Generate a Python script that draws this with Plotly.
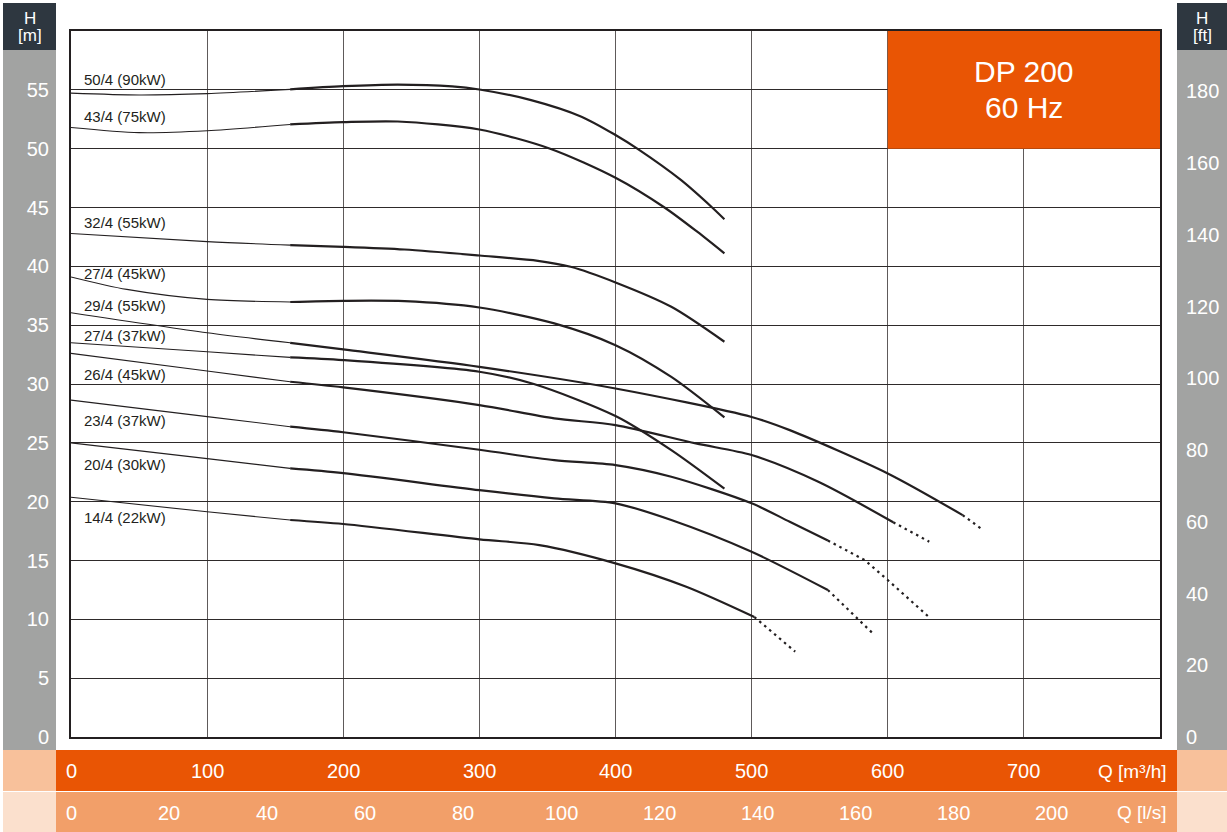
import plotly.graph_objects as go

# ---------------- data ----------------
q_50_4 = [0, 50, 100, 161, 200, 240, 280, 300, 338, 375, 400, 416, 448, 471, 480]
h_50_4 = [54.72, 54.56, 54.68, 55.04, 55.31, 55.45, 55.3, 55.03, 54.13, 52.72, 51.16, 50.0, 47.34, 45.0, 44.0]

q_43_4 = [0, 50, 100, 161, 200, 240, 300, 352, 400, 436, 460, 480]
h_43_4 = [51.8, 51.36, 51.52, 52.06, 52.25, 52.31, 51.63, 50.0, 47.53, 45.0, 42.94, 41.1]

q_32_4 = [0, 100, 161, 200, 245, 300, 343, 367, 400, 441, 480]
h_32_4 = [42.79, 42.1, 41.8, 41.66, 41.43, 40.92, 40.47, 39.96, 38.63, 36.56, 33.59]

q_27_4a = [0, 41, 100, 161, 200, 245, 300, 355, 400, 441, 480]
h_27_4a = [39.1, 38.04, 37.19, 36.97, 37.07, 37.04, 36.5, 35.15, 33.3, 30.6, 27.16]

q_29_4 = [0, 100, 161, 200, 300, 400, 500, 528, 600, 655]
h_29_4 = [36.05, 34.35, 33.5, 32.94, 31.46, 29.62, 27.2, 26.08, 22.4, 18.86]
q_29_4_dot = [655, 670]
h_29_4_dot = [18.86, 17.59]

q_27_4b = [0, 100, 161, 200, 300, 340, 400, 441, 480]
h_27_4b = [33.5, 32.74, 32.26, 32.03, 31.04, 30.0, 27.28, 24.38, 21.1]

q_26_4 = [0, 100, 161, 200, 300, 355, 400, 459, 500, 549, 604]
h_26_4 = [32.6, 31.1, 30.19, 29.71, 28.21, 27.08, 26.51, 24.95, 23.96, 21.69, 18.25]
q_26_4_dot = [604, 630.5]
h_26_4_dot = [18.25, 16.6]

q_23_4 = [0, 100, 161, 200, 300, 355, 400, 441, 500, 528, 556]
h_23_4 = [28.63, 27.23, 26.37, 25.9, 24.41, 23.53, 23.11, 22.12, 19.86, 18.29, 16.7]
q_23_4_dot = [556, 583, 600, 630]
h_23_4_dot = [16.7, 15.04, 13.34, 10.22]

q_20_4 = [0, 100, 161, 200, 300, 355, 400, 441, 500, 556]
h_20_4 = [25.0, 23.66, 22.83, 22.43, 20.98, 20.28, 19.86, 18.44, 15.74, 12.49]
q_20_4_dot = [556, 589]
h_20_4_dot = [12.49, 8.81]

q_14_4 = [0, 100, 161, 200, 300, 344, 400, 452, 502]
h_14_4 = [20.37, 19.14, 18.44, 18.1, 16.8, 16.31, 14.76, 12.77, 10.2]
q_14_4_dot = [502, 532]
h_14_4_dot = [10.2, 7.25]

curve_labels = ["50/4 (90kW)", "43/4 (75kW)", "32/4 (55kW)", "27/4 (45kW)", "29/4 (55kW)",
                "27/4 (37kW)", "26/4 (45kW)", "23/4 (37kW)", "20/4 (30kW)", "14/4 (22kW)"]
label_h = [55.9, 52.7, 43.7, 39.35, 36.7, 34.1, 30.8, 26.9, 23.15, 18.62]
label_q = 8.2

q_thick_start = 161

m_ticks = [0, 5, 10, 15, 20, 25, 30, 35, 40, 45, 50, 55]
ft_ticks = [0, 20, 40, 60, 80, 100, 120, 140, 160, 180]
qm3h_ticks = [0, 100, 200, 300, 400, 500, 600, 700]
qls_ticks = [0, 20, 40, 60, 80, 100, 120, 140, 160, 180, 200]
M_TO_FT = 3.28084
LS_TO_M3H = 3.6

title_line1 = "DP 200"
title_line2 = "60 Hz"

# ---------------- styling ----------------
INK = "#231F20"
ORANGE = "#E95504"
ORANGE2 = "#F29F69"
CORNER1 = "#F8C19B"
CORNER2 = "#FBE0CD"
GRAY = "#A2A3A2"
DARK = "#2E3740"
FONT = "Liberation Sans, Arial, sans-serif"

W, H = 1227, 832
L, R, T, B = 71, 1160, 31, 737


def fx(px):
    return (px - L) / (R - L)


def fy(py):
    return (B - py) / (B - T)


curves = [
    (q_50_4, h_50_4, None, None),
    (q_43_4, h_43_4, None, None),
    (q_32_4, h_32_4, None, None),
    (q_27_4a, h_27_4a, None, None),
    (q_29_4, h_29_4, q_29_4_dot, h_29_4_dot),
    (q_27_4b, h_27_4b, None, None),
    (q_26_4, h_26_4, q_26_4_dot, h_26_4_dot),
    (q_23_4, h_23_4, q_23_4_dot, h_23_4_dot),
    (q_20_4, h_20_4, q_20_4_dot, h_20_4_dot),
    (q_14_4, h_14_4, q_14_4_dot, h_14_4_dot),
]

fig = go.Figure()
for q, h, qd, hd in curves:
    thin = [(a, b) for a, b in zip(q, h) if a <= q_thick_start]
    thick = [(a, b) for a, b in zip(q, h) if a >= q_thick_start]
    fig.add_trace(go.Scatter(x=[p[0] for p in thin], y=[p[1] for p in thin], mode="lines",
                             line=dict(color=INK, width=1.1, shape="spline", smoothing=0.8),
                             hoverinfo="skip", showlegend=False))
    fig.add_trace(go.Scatter(x=[p[0] for p in thick], y=[p[1] for p in thick], mode="lines",
                             line=dict(color=INK, width=2.2, shape="spline", smoothing=0.8),
                             hoverinfo="skip", showlegend=False))
    if qd:
        fig.add_trace(go.Scatter(x=qd, y=hd, mode="lines",
                                 line=dict(color=INK, width=2.2, dash="2.5px,4px"),
                                 hoverinfo="skip", showlegend=False))

# invisible trace to activate the ft axis
fig.add_trace(go.Scatter(x=[0], y=[0], yaxis="y2", mode="markers", marker=dict(opacity=0),
                         hoverinfo="skip", showlegend=False))

shapes = []


def rect(x0, y0, x1, y1, color):
    shapes.append(dict(type="rect", xref="paper", yref="paper", x0=fx(x0), x1=fx(x1),
                       y0=fy(y1), y1=fy(y0), fillcolor=color, line=dict(width=0), layer="below"))


rect(3, 3, 56, 50, DARK)
rect(3, 50, 56, 750, GRAY)
rect(1177, 3, 1227, 50, DARK)
rect(1177, 50, 1227, 750, GRAY)
rect(56, 750, 1177, 791, ORANGE)
rect(56, 792, 1177, 832, ORANGE2)
rect(3, 750, 56, 791, CORNER1)
rect(1177, 750, 1227, 791, CORNER1)
rect(3, 792, 56, 832, CORNER2)
rect(1177, 792, 1227, 832, CORNER2)

# title box in data coordinates
shapes.append(dict(type="rect", xref="x", yref="y", x0=600, x1=800, y0=50, y1=60,
                   fillcolor=ORANGE, line=dict(width=0), layer="between"))

ann = []
for txt, hy in zip(curve_labels, label_h):
    ann.append(dict(x=label_q, y=hy, xref="x", yref="y", text=txt, showarrow=False,
                    xanchor="left", yanchor="middle", font=dict(family=FONT, size=15, color=INK)))

ann.append(dict(x=700, y=(B - 71.7) / ((B - T) / 60), xref="x", yref="y", text=title_line1,
                showarrow=False, font=dict(family=FONT, size=30, color="white")))
ann.append(dict(x=700, y=(B - 107.7) / ((B - T) / 60), xref="x", yref="y", text=title_line2,
                showarrow=False, font=dict(family=FONT, size=30, color="white")))

for v in qm3h_ticks:
    ann.append(dict(x=v, y=fy(771), xref="x", yref="paper", text=str(v), showarrow=False,
                    xanchor="center", yanchor="middle", font=dict(family=FONT, size=20, color="white")))
for v in qls_ticks:
    ann.append(dict(x=v * LS_TO_M3H, y=fy(813), xref="x", yref="paper", text=str(v), showarrow=False,
                    xanchor="center", yanchor="middle", font=dict(family=FONT, size=20, color="white")))
ann.append(dict(x=fx(1169), y=fy(771), xref="paper", yref="paper", text="Q [m³/h]", showarrow=False,
                xanchor="right", yanchor="middle", font=dict(family=FONT, size=19, color="white")))
ann.append(dict(x=fx(1169), y=fy(813), xref="paper", yref="paper", text="Q [l/s]", showarrow=False,
                xanchor="right", yanchor="middle", font=dict(family=FONT, size=19, color="white")))

for cx, unit in [(29.5, "[m]"), (1202, "[ft]")]:
    ann.append(dict(x=fx(cx), y=fy(18), xref="paper", yref="paper", text="H", showarrow=False,
                    xanchor="center", yanchor="middle", font=dict(family=FONT, size=17, color="white")))
    ann.append(dict(x=fx(cx), y=fy(36), xref="paper", yref="paper", text=unit, showarrow=False,
                    xanchor="center", yanchor="middle", font=dict(family=FONT, size=17, color="white")))

fig.update_layout(
    width=W, height=H, autosize=False,
    margin=dict(l=L, r=W - R, t=T, b=H - B, pad=0),
    paper_bgcolor="white", plot_bgcolor="white",
    shapes=shapes, annotations=ann,
    xaxis=dict(range=[0, 800], dtick=100, tick0=0, showgrid=True, gridcolor="#5E5A5A", gridwidth=1,
               zeroline=False, showline=True, linecolor=INK, linewidth=2, mirror=True,
               showticklabels=False, ticks="", automargin=False, fixedrange=True),
    yaxis=dict(range=[0, 60], tickvals=m_ticks, showgrid=True, gridcolor="#2E2A2A", gridwidth=1,
               zeroline=False, showline=True, linecolor=INK, linewidth=2, mirror=True,
               ticks="", ticklabelstandoff=16,
               tickfont=dict(family=FONT, size=20, color="white"), automargin=False, fixedrange=True),
    yaxis2=dict(range=[0, 60 * M_TO_FT], tickvals=ft_ticks, overlaying="y", side="right",
                showgrid=False, zeroline=False, showline=False, ticks="", ticklabelstandoff=25,
                tickfont=dict(family=FONT, size=20, color="white"), automargin=False, fixedrange=True),
)

fig.write_html(
    "out.html",
    config={"displayModeBar": False},
    post_script="document.body.style.margin='0px';document.body.style.overflow='hidden';",
)
